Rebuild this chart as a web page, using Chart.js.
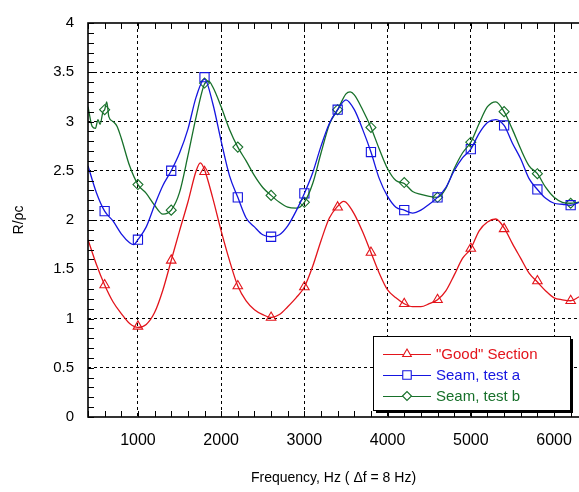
<!DOCTYPE html>
<html>
<head>
<meta charset="utf-8">
<script src="https://cdn.jsdelivr.net/npm/chart.js@4/dist/chart.umd.min.js"></script>
<style>
  html, body { margin: 0; padding: 0; background: #fff; }
  #chart { display: block; }
</style>
</head>
<body>
<canvas id="chart" width="579" height="492"></canvas>
<script>
// Curvas (R/ρc em função da frequência)
const freqGood = [400, 500, 600, 700, 800, 900, 1000, 1100, 1200, 1300, 1400, 1500, 1600, 1700, 1750, 1800, 1900, 2000, 2100, 2200, 2300, 2400, 2500, 2600, 2700, 2800, 2900, 3000, 3100, 3200, 3300, 3400, 3470, 3500, 3600, 3700, 3800, 3900, 4000, 4100, 4200, 4300, 4400, 4500, 4600, 4700, 4800, 4900, 5000, 5100, 5200, 5300, 5400, 5500, 5600, 5700, 5800, 5900, 6000, 6100, 6200, 6300];
const good = [1.80, 1.55, 1.34, 1.17, 1.05, 0.95, 0.91, 0.94, 1.06, 1.29, 1.59, 1.89, 2.18, 2.50, 2.58, 2.51, 2.22, 1.89, 1.59, 1.33, 1.18, 1.09, 1.04, 1.01, 1.04, 1.12, 1.21, 1.32, 1.53, 1.79, 2.02, 2.14, 2.19, 2.18, 2.06, 1.88, 1.67, 1.46, 1.29, 1.21, 1.15, 1.12, 1.12, 1.15, 1.19, 1.28, 1.44, 1.61, 1.71, 1.89, 1.98, 2.01, 1.92, 1.76, 1.61, 1.46, 1.37, 1.28, 1.21, 1.19, 1.18, 1.22];

const freqSeamA = [400, 500, 600, 700, 800, 900, 950, 1000, 1100, 1200, 1300, 1400, 1500, 1600, 1700, 1800, 1900, 2000, 2100, 2200, 2300, 2400, 2500, 2600, 2700, 2800, 2900, 3000, 3100, 3200, 3300, 3400, 3500, 3600, 3700, 3800, 3900, 4000, 4100, 4200, 4300, 4400, 4500, 4600, 4700, 4800, 4900, 5000, 5100, 5200, 5300, 5400, 5500, 5600, 5700, 5800, 5900, 6000, 6100, 6200, 6300];
const seamA = [2.55, 2.28, 2.09, 1.99, 1.86, 1.77, 1.75, 1.80, 1.93, 2.15, 2.35, 2.50, 2.68, 2.92, 3.25, 3.43, 3.18, 2.80, 2.45, 2.23, 2.02, 1.93, 1.85, 1.83, 1.85, 1.94, 2.09, 2.27, 2.48, 2.75, 2.98, 3.12, 3.22, 3.12, 2.92, 2.69, 2.42, 2.24, 2.13, 2.10, 2.07, 2.10, 2.16, 2.23, 2.33, 2.50, 2.63, 2.72, 2.88, 2.99, 3.02, 2.96, 2.78, 2.62, 2.42, 2.31, 2.22, 2.17, 2.16, 2.15, 2.18];

const freqSeamB = [400, 450, 490, 520, 545, 580, 600, 625, 650, 700, 750, 800, 900, 1000, 1100, 1200, 1300, 1400, 1500, 1600, 1700, 1800, 1850, 1900, 2000, 2100, 2200, 2300, 2400, 2500, 2600, 2700, 2800, 2900, 3000, 3100, 3200, 3300, 3400, 3500, 3550, 3600, 3700, 3800, 3900, 4000, 4100, 4200, 4300, 4400, 4500, 4600, 4700, 4800, 4900, 5000, 5100, 5200, 5300, 5400, 5500, 5600, 5700, 5800, 5900, 6000, 6100, 6200, 6300];
const seamB = [3.15, 2.95, 2.93, 3.02, 2.97, 3.10, 3.12, 3.20, 3.05, 3.00, 2.95, 2.83, 2.55, 2.36, 2.27, 2.15, 2.06, 2.10, 2.28, 2.65, 3.05, 3.38, 3.41, 3.35, 3.15, 2.92, 2.74, 2.60, 2.45, 2.33, 2.25, 2.18, 2.13, 2.12, 2.18, 2.37, 2.68, 2.97, 3.12, 3.28, 3.30, 3.27, 3.12, 2.94, 2.72, 2.52, 2.40, 2.37, 2.29, 2.26, 2.24, 2.23, 2.32, 2.52, 2.68, 2.79, 2.98, 3.15, 3.20, 3.10, 2.92, 2.72, 2.55, 2.47, 2.33, 2.23, 2.18, 2.17, 2.18];

// Marcadores (a cada 400 Hz)
const markerFreq = [600, 1000, 1400, 1800, 2200, 2600, 3000, 3400, 3800, 4200, 4600, 5000, 5400, 5800, 6200];
const goodMarks = [1.34, 0.92, 1.59, 2.49, 1.33, 1.01, 1.32, 2.13, 1.67, 1.15, 1.19, 1.71, 1.91, 1.38, 1.18];
const seamAMarks = [2.09, 1.80, 2.50, 3.45, 2.23, 1.83, 2.27, 3.12, 2.69, 2.10, 2.23, 2.72, 2.96, 2.31, 2.15];
const seamBMarks = [3.12, 2.36, 2.10, 3.39, 2.74, 2.25, 2.18, 3.12, 2.94, 2.38, 2.23, 2.79, 3.10, 2.47, 2.17];

const xTicks = [1000, 2000, 3000, 4000, 5000, 6000];
const labels = ['"Good" Section', 'Seam, test a', 'Seam, test b'];

const RED = '#e3141b';
const BLUE = '#1515e0';
const GREEN = '#17702a';
const FONT = "'Liberation Sans', Arial, sans-serif";

function pts(xs, ys) {
    return xs.map((x, i) => ({ x: x, y: ys[i] }));
}

function lineSet(label, xs, ys, color) {
    return {
        label: label,
        data: pts(xs, ys),
        borderColor: color,
        borderWidth: 1.3,
        pointRadius: 0,
        fill: false,
        cubicInterpolationMode: 'monotone'
    };
}

function markSet(xs, ys, color, style, radius) {
    return {
        label: '',
        data: pts(xs, ys),
        showLine: false,
        borderColor: color,
        backgroundColor: 'rgba(0,0,0,0)',
        borderWidth: 1.1,
        pointStyle: style,
        pointRadius: radius
    };
}

const legendItems = [
    { text: labels[0], color: RED, style: 'triangle', r: 5 },
    { text: labels[1], color: BLUE, style: 'rect', r: 6 },
    { text: labels[2], color: GREEN, style: 'rectRot', r: 4.5 }
];

// moldura, marcas internas e legenda
const decorPlugin = {
    id: 'decor',
    afterDatasetsDraw(chart) {
        const ctx = chart.ctx;
        const a = chart.chartArea;
        const x = chart.scales.x;
        const y = chart.scales.y;
        ctx.save();
        ctx.strokeStyle = '#000';
        ctx.lineWidth = 1;
        ctx.setLineDash([]);
        ctx.beginPath();
        for (let v = 400; v <= 6300; v += 200) {
            const px = Math.round(x.getPixelForValue(v)) + 0.5;
            ctx.moveTo(px, a.bottom);
            ctx.lineTo(px, a.bottom - 6);
            ctx.moveTo(px, a.top);
            ctx.lineTo(px, a.top + 6);
        }
        for (let i = 0; i <= 40; i++) {
            const py = Math.round(y.getPixelForValue(i / 10)) + 0.5;
            ctx.moveTo(a.left, py);
            ctx.lineTo(a.left + 6, py);
        }
        ctx.stroke();
        ctx.lineWidth = 1.6;
        ctx.strokeRect(a.left, a.top, a.right - a.left + 4, a.bottom - a.top);

        // legenda
        const lx = 373, ly = 336, lw = 197, lh = 74;
        ctx.fillStyle = '#000';
        ctx.fillRect(lx + 3, ly + 3, lw, lh);
        ctx.fillStyle = '#fff';
        ctx.fillRect(lx, ly, lw, lh);
        ctx.lineWidth = 1;
        ctx.strokeRect(lx + 0.5, ly + 0.5, lw, lh);
        ctx.font = '15px ' + FONT;
        ctx.textBaseline = 'middle';
        const rows = [354, 375, 396];
        legendItems.forEach((it, i) => {
            const ry = rows[i];
            ctx.strokeStyle = it.color;
            ctx.lineWidth = 1.2;
            ctx.beginPath();
            ctx.moveTo(383, ry + 0.5);
            ctx.lineTo(431, ry + 0.5);
            ctx.stroke();
            ctx.fillStyle = '#fff';
            ctx.lineWidth = 1.1;
            Chart.helpers.drawPoint(ctx, { pointStyle: it.style, radius: it.r, borderWidth: 1.1 }, 407, ry);
            ctx.fillStyle = it.color;
            ctx.fillText(it.text, 436, ry + 1);
        });
        ctx.restore();
    }
};

new Chart(document.getElementById('chart'), {
    type: 'line',
    data: {
        datasets: [
            lineSet(labels[0], freqGood, good, RED),
            lineSet(labels[1], freqSeamA, seamA, BLUE),
            lineSet(labels[2], freqSeamB, seamB, GREEN),
            markSet(markerFreq, goodMarks, RED, 'triangle', 5.5),
            markSet(markerFreq, seamAMarks, BLUE, 'rect', 6.5),
            markSet(markerFreq, seamBMarks, GREEN, 'rectRot', 5)
        ]
    },
    options: {
        responsive: false,
        animation: false,
        layout: { autoPadding: false, padding: { top: 14, right: 0, left: 0, bottom: 0 } },
        plugins: {
            legend: { display: false },
            tooltip: { enabled: false }
        },
        scales: {
            x: {
                type: 'linear',
                min: 400,
                max: 6300,
                afterBuildTicks: (s) => { s.ticks = xTicks.map(v => ({ value: v })); },
                afterFit: (s) => { s.height = 75; s.paddingLeft = 0; s.paddingRight = 0; },
                ticks: {
                    color: '#000',
                    font: { family: FONT, size: 16 },
                    padding: 14,
                    maxRotation: 0,
                    callback: (v) => String(v)
                },
                grid: { color: '#000', lineWidth: 1, drawTicks: false },
                border: { display: false, dash: [3, 3] },
                title: {
                    display: true,
                    text: 'Frequency, Hz ( \u0394f = 8 Hz)',
                    color: '#000',
                    font: { family: FONT, size: 14 },
                    padding: { top: 0, bottom: 5 }
                }
            },
            y: {
                min: 0,
                max: 4,
                afterFit: (s) => { s.width = 88; },
                ticks: {
                    stepSize: 0.5,
                    color: '#000',
                    font: { family: FONT, size: 15 },
                    padding: 14,
                    callback: (v) => String(v)
                },
                grid: {
                    color: (c) => (c.tick && (c.tick.value === 0 || c.tick.value === 4)) ? 'rgba(0,0,0,0)' : '#000',
                    lineWidth: 1,
                    drawTicks: false
                },
                border: { display: false, dash: [3, 3] },
                title: {
                    display: true,
                    text: 'R/\u03c1c',
                    color: '#000',
                    font: { family: FONT, size: 14 },
                    padding: { top: 11, bottom: 0 }
                }
            }
        }
    },
    plugins: [decorPlugin]
});
</script>
</body>
</html>
